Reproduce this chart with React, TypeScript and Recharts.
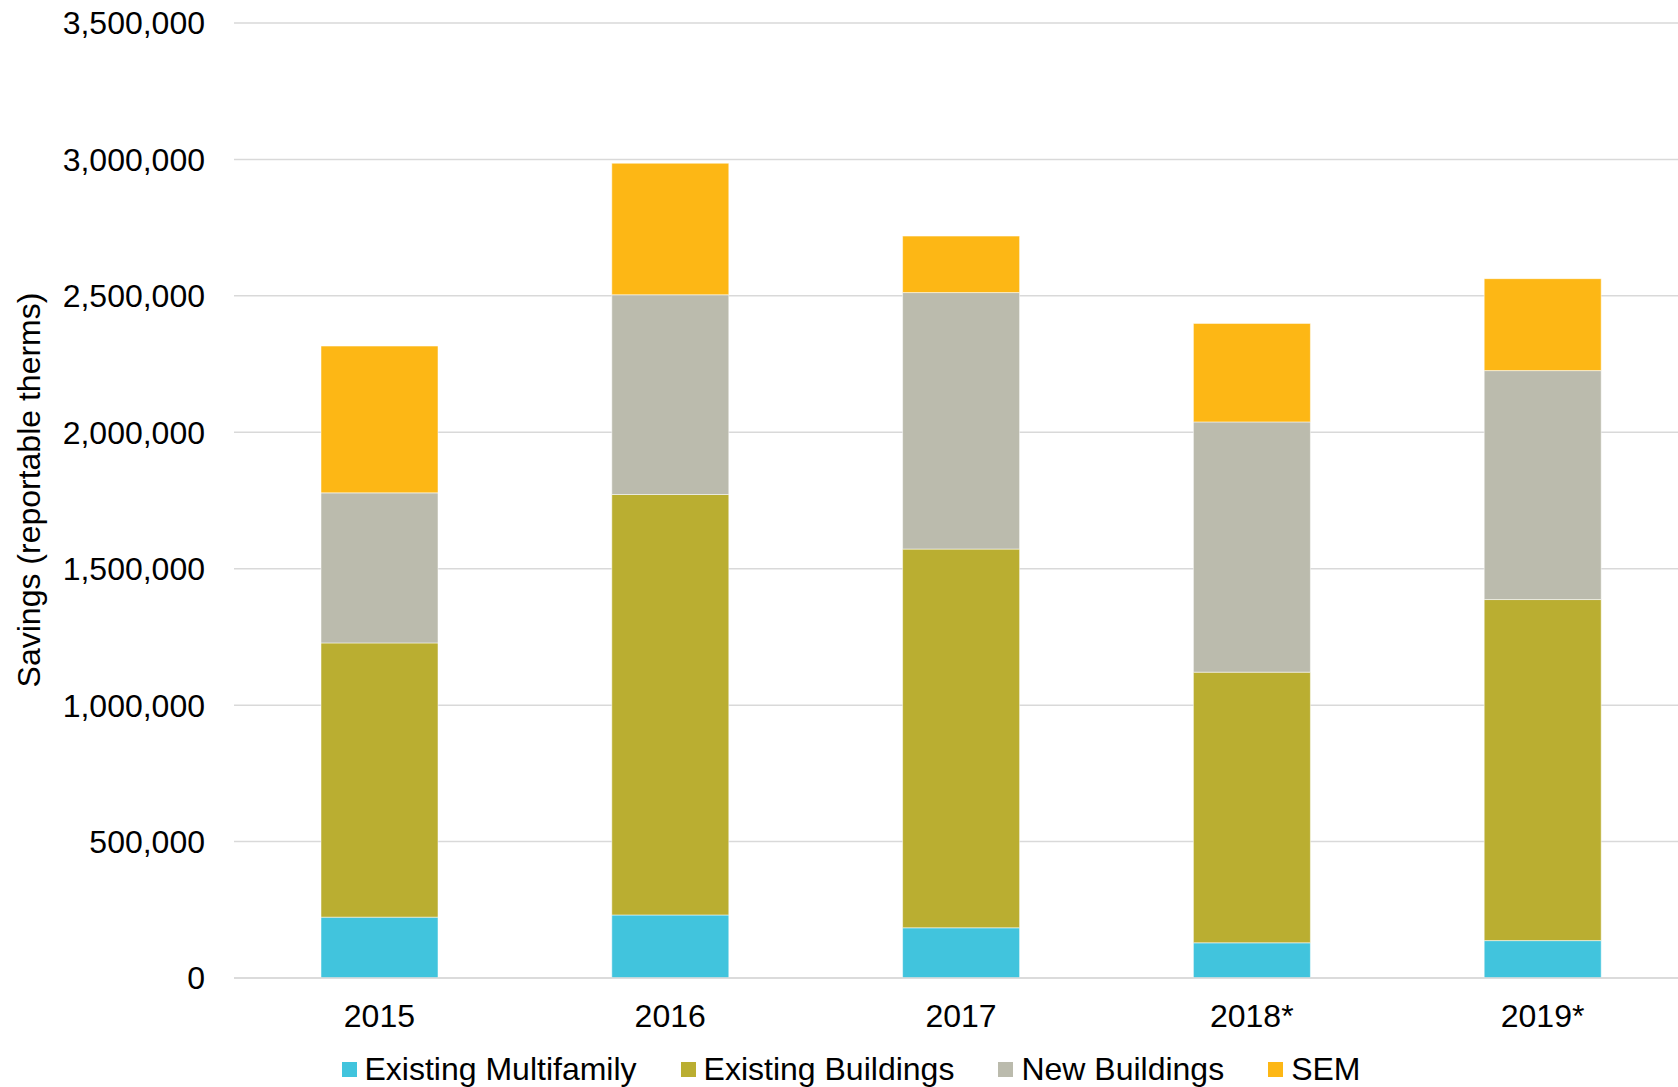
import { BarChart, Bar, XAxis, YAxis, CartesianGrid, Legend } from "recharts";

// Program years
const years = ["2015", "2016", "2017", "2018*", "2019*"];

// Savings by track (reportable therms)
const existingMultifamily = [223000, 231000, 184000, 129000, 137000];
const existingBuildings = [1005000, 1541000, 1388000, 992000, 1250000];
const newBuildings = [550000, 732000, 940000, 917000, 839000];
const sem = [538000, 482000, 207000, 361000, 337000];

const yTicks = [0, 500000, 1000000, 1500000, 2000000, 2500000, 3000000, 3500000];

const SERIES = [
    { key: "mf", name: "Existing Multifamily", color: "#41C4DD" },
    { key: "eb", name: "Existing Buildings", color: "#BAAE31" },
    { key: "nb", name: "New Buildings", color: "#BBBBAD" },
    { key: "sem", name: "SEM", color: "#FDB715" },
];

const FONT = "'Liberation Sans', Arial, sans-serif";
const FS = 32;

const data = years.map((year, i) => ({
    year,
    mf: existingMultifamily[i],
    eb: existingBuildings[i],
    nb: newBuildings[i],
    sem: sem[i],
}));

const renderLegend = () => (
    <div
        style={{
            display: "flex",
            justifyContent: "center",
            alignItems: "center",
            height: 40,
            paddingLeft: 14,
            fontFamily: FONT,
            fontSize: FS,
            color: "#000",
            lineHeight: "40px",
        }}
    >
        {SERIES.map((s, i) => (
            <div key={s.key} style={{ display: "flex", alignItems: "center", marginLeft: i === 0 ? 0 : 44 }}>
                <span style={{ width: 15, height: 15, background: s.color, marginRight: 8, display: "inline-block" }} />
                <span>{s.name}</span>
            </div>
        ))}
    </div>
);

const YLabel = () => (
    <text
        x={29}
        y={490}
        transform="rotate(-90, 29, 490)"
        textAnchor="middle"
        dominantBaseline="central"
        fontFamily={FONT}
        fontSize={FS}
        fill="#000"
    >
        Savings (reportable therms)
    </text>
);

const App = () => {
    return (
        <div style={{ position: "absolute", left: 0, top: 0, background: "#fff" }}>
            <BarChart
                width={1678}
                height={1087}
                data={data}
                margin={{ top: 23, right: -10, left: 0, bottom: 9 }}
            >
                <CartesianGrid vertical={false} stroke="#D9D9D9" strokeWidth={1.5} />
                <XAxis
                    dataKey="year"
                    height={60}
                    tickLine={false}
                    tickSize={0}
                    tickMargin={26}
                    axisLine={{ stroke: "#D9D9D9", strokeWidth: 1.5 }}
                    tick={{ fill: "#000", fontSize: FS, fontFamily: FONT }}
                />
                <YAxis
                    width={234}
                    domain={[0, 3500000]}
                    ticks={yTicks}
                    interval={0}
                    axisLine={false}
                    tickLine={false}
                    tickSize={0}
                    tickMargin={29}
                    tickFormatter={(v: number) => v.toLocaleString("en-US")}
                    tick={{ fill: "#000", fontSize: FS, fontFamily: FONT }}
                    label={<YLabel />}
                />
                <Legend verticalAlign="bottom" wrapperStyle={{ bottom: -2 }} content={renderLegend} />
                {SERIES.map((s) => (
                    <Bar
                        key={s.key}
                        dataKey={s.key}
                        name={s.name}
                        stackId="a"
                        fill={s.color}
                        stroke="#ffffff"
                        strokeOpacity={0.5}
                        strokeWidth={1}
                        barSize={117}
                        isAnimationActive={false}
                    />
                ))}
            </BarChart>
        </div>
    );
};

export default App;
